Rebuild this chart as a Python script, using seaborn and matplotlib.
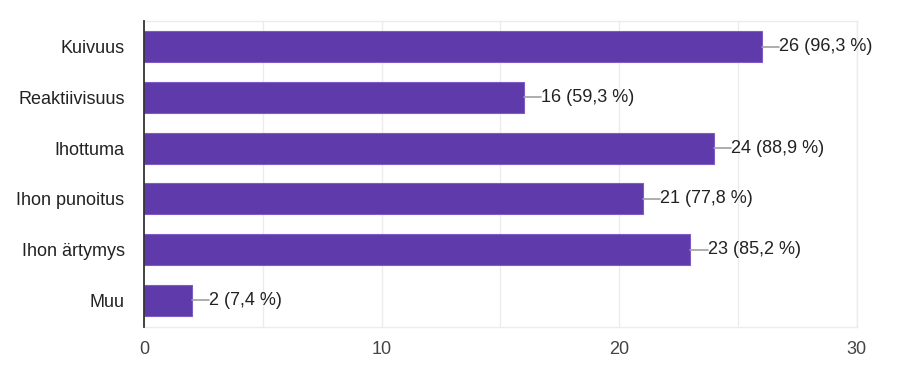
import matplotlib
matplotlib.use("Agg")
import matplotlib.pyplot as plt
import seaborn as sns
import pandas as pd

# Data
categories = ["Kuivuus", "Reaktiivisuus", "Ihottuma", "Ihon punoitus", "Ihon ärtymys", "Muu"]
counts = [26, 16, 24, 21, 23, 2]
percents = ["96,3", "59,3", "88,9", "77,8", "85,2", "7,4"]
x_ticks = [0, 10, 20, 30]

df = pd.DataFrame({"category": categories, "count": counts, "pct": percents})

sns.set_theme(style="white")
plt.rcParams["font.family"] = ["Liberation Sans", "DejaVu Sans"]

bar_color = "#5f3aab"

fig = plt.figure(figsize=(9, 3.8), dpi=100)
ax = fig.add_axes([0.16, 0.139, 0.792, 0.806])

sns.barplot(data=df, x="count", y="category", orient="h", color=bar_color,
            saturation=1, width=0.61, edgecolor="#7e5cc6", linewidth=0.8, ax=ax, zorder=3)

ax.set_xlim(0, 30)
ax.set_ylim(5.53, -0.51)

# faint grid
for gx in [5, 10, 15, 20, 25, 30]:
    ax.axvline(gx, color="#ececec", linewidth=1, zorder=0)

# connectors and labels
for i, (c, p) in enumerate(zip(counts, percents)):
    ax.plot([c, c + 0.72], [i, i], color="#a0a0a0", linewidth=1.2, zorder=4)
    ax.text(c + 0.72, i, f"{c} ({p} %)", va="center", ha="left",
            fontsize=13, color="#222222", zorder=5)

ax.set_xticks(x_ticks)
ax.set_xticklabels([str(t) for t in x_ticks])
ax.tick_params(axis="x", labelsize=13, colors="#444444", length=0, pad=10)
ax.tick_params(axis="y", labelsize=13, colors="#222222", length=0, pad=14)
ax.set_xlabel("")
ax.set_ylabel("")

for side in ["top", "right", "bottom"]:
    ax.spines[side].set_color("#ececec")
    ax.spines[side].set_linewidth(1)
ax.spines["left"].set_color("#333333")
ax.spines["left"].set_linewidth(1.3)
ax.spines["left"].set_zorder(6)

fig.savefig("out.png", dpi=100, facecolor="white")
